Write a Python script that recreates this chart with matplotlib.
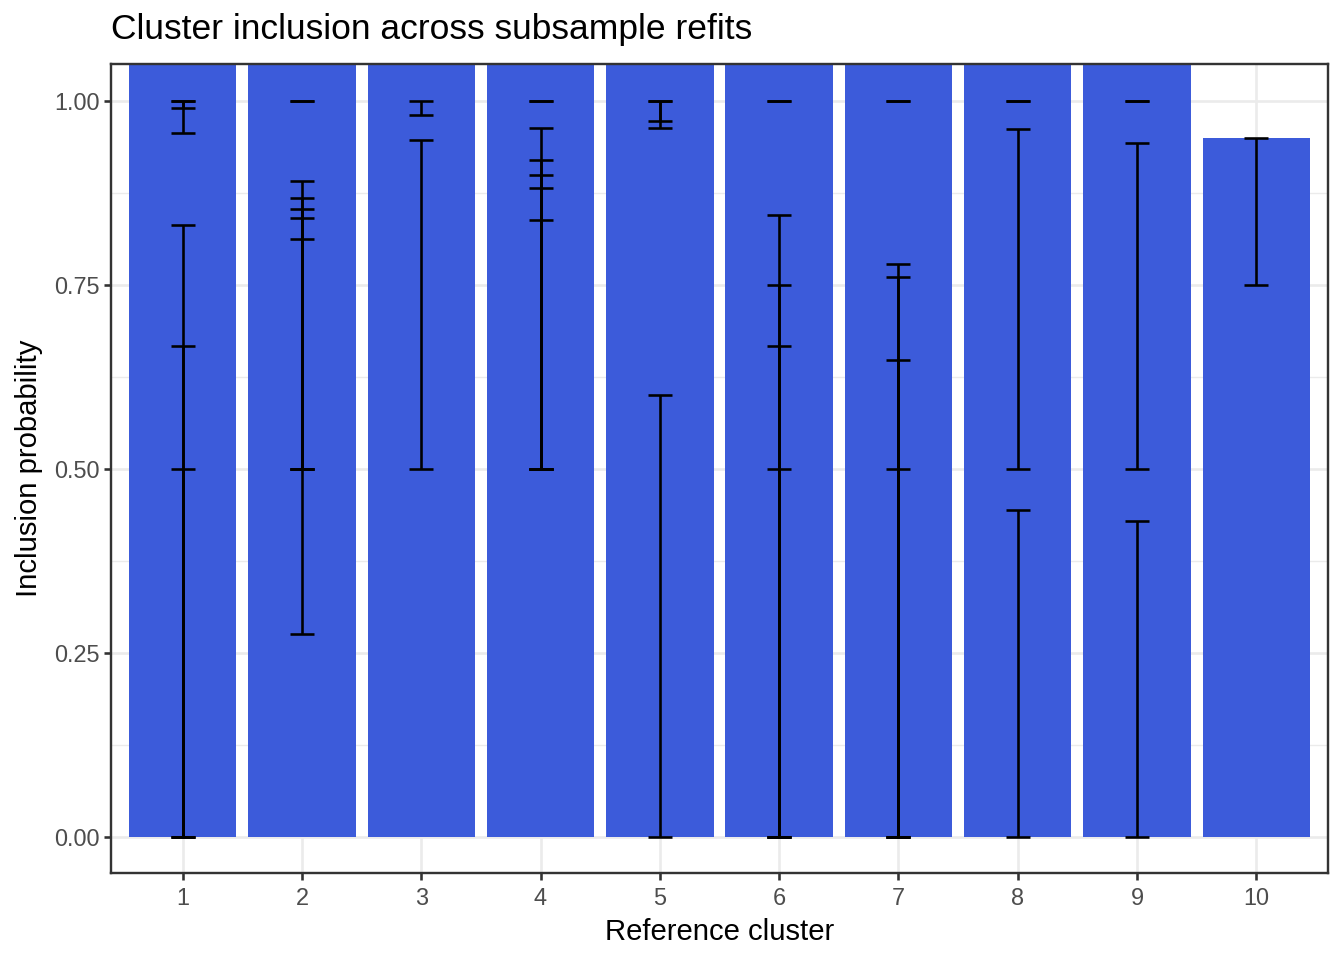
import matplotlib
matplotlib.use("Agg")
import matplotlib.pyplot as plt
import numpy as np
import pandas as pd

plt.rcParams['font.family'] = ['Liberation Sans', 'DejaVu Sans']

# Error bar rows: reference cluster, lower and upper inclusion probability
eb_cluster = [1, 1, 1, 1, 1,
              2, 2, 2, 2, 2, 2,
              3, 3,
              4, 4, 4, 4, 4, 4,
              5, 5, 5,
              6, 6, 6, 6, 6,
              7, 7, 7, 7, 7,
              8, 8, 8,
              9, 9, 9,
              10]
eb_low = [0.957, 0.990, 0.0, 0.0, 0.0,
          1.0, 0.275, 0.5, 0.5, 0.5, 0.5,
          0.981, 0.5,
          1.0, 0.5, 0.5, 0.5, 0.5, 0.5,
          0.964, 0.973, 0.0,
          1.0, 0.0, 0.0, 0.0, 0.0,
          1.0, 0.0, 0.0, 0.0, 0.0,
          1.0, 0.5, 0.0,
          1.0, 0.5, 0.0,
          0.75]
eb_high = [1.0, 1.0, 0.831, 0.667, 0.5,
           1.0, 0.891, 0.868, 0.854, 0.841, 0.812,
           1.0, 0.947,
           1.0, 0.964, 0.920, 0.900, 0.882, 0.838,
           1.0, 1.0, 0.600,
           1.0, 0.845, 0.750, 0.667, 0.5,
           1.0, 0.778, 0.761, 0.648, 0.5,
           1.0, 0.962, 0.444,
           1.0, 0.943, 0.429,
           0.95]
clusters = list(range(1, 11))

df = pd.DataFrame({"cluster": eb_cluster, "low": eb_low, "high": eb_high})
# bars are stacked per-row values (clipped by the y-range)
bar_heights = df.groupby("cluster")["high"].sum().reindex(clusters).values

W, H = 1344, 960
fig = plt.figure(figsize=(W / 100, H / 100), dpi=100)
ax = fig.add_axes([111 / W, (960 - 873) / H, (1328 - 111) / W, (873 - 64) / H])

px = 1 / 1.389  # one pixel in points

# grid
ax.set_axisbelow(True)
for v in [0.125, 0.375, 0.625, 0.875]:
    ax.axhline(v, color='#EBEBEB', lw=1.4 * px, zorder=0)
for v in [0, 0.25, 0.5, 0.75, 1.0]:
    ax.axhline(v, color='#EBEBEB', lw=2.6 * px, zorder=0)
for c in clusters:
    ax.axvline(c, color='#EBEBEB', lw=2.6 * px, zorder=0)

ax.bar(clusters, bar_heights, width=0.9, color='#3C5BDA', linewidth=0, zorder=2)

ax.errorbar(df["cluster"], df["high"],
            yerr=[df["high"] - df["low"], np.zeros(len(df))],
            fmt='none', ecolor='black', elinewidth=2.6 * px,
            capsize=12.5 * px, capthick=2.6 * px, zorder=3)

ax.set_xlim(0.4, 10.6)
ax.set_ylim(-0.0495, 1.0505)
ax.set_xticks(clusters)
ax.set_xticklabels([str(c) for c in clusters])
ax.set_yticks([0, 0.25, 0.5, 0.75, 1.0])
ax.set_yticklabels(["0.00", "0.25", "0.50", "0.75", "1.00"])

ax.tick_params(axis='both', which='major', length=7.3 * px, width=2.6 * px,
               color='#333333', labelcolor='#4D4D4D', labelsize=16.9, pad=3)
ax.tick_params(axis='x', pad=4.5)
for s in ax.spines.values():
    s.set_color('#333333')
    s.set_linewidth(2.4 * px)

ax.set_xlabel("Reference cluster", fontsize=21.1, color='black', labelpad=6)
ax.set_ylabel("Inclusion probability", fontsize=21.1, color='black', labelpad=8)
fig.text(111 / W, 1 - 30 / H, "Cluster inclusion across subsample refits",
         fontsize=25.5, color='black', ha='left', va='center')

fig.savefig("out.png", dpi=100)
